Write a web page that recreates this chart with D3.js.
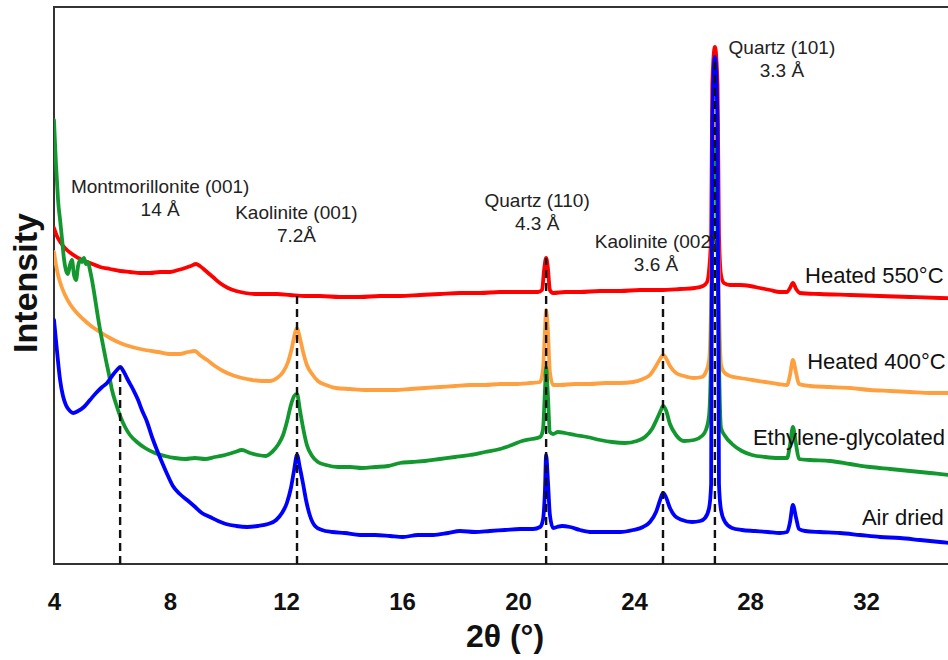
<!DOCTYPE html>
<html>
<head>
<meta charset="utf-8">
<script src="https://cdn.jsdelivr.net/npm/d3@7"></script>
<style>
  html, body { margin: 0; padding: 0; background: #fff; }
  svg { display: block; font-family: "Liberation Sans", Arial, sans-serif; }
</style>
</head>
<body>
<svg id="chart" width="948" height="660"></svg>
<script>
// XRD patterns of the clay fraction: 2θ (degrees) and relative intensity (a.u.)
const airDried = [
  [4.00,244],[4.10,214],[4.21,184],[4.31,168],[4.41,159],[4.55,153],[4.66,151],[4.83,153],
  [5.03,157],[5.24,164],[5.45,171],[5.66,177],[5.83,181],[6.00,188],[6.17,194],[6.28,197],
  [6.41,192],[6.55,184],[6.72,175],[6.90,164],[7.03,154],[7.21,142],[7.38,127],[7.55,114],
  [7.72,102],[7.90,90],[8.10,78],[8.34,70],[8.59,64],[8.83,58],[9.10,51],[9.38,47],
  [9.66,43],[9.93,40],[10.28,38],[10.66,37],[11.03,38],[11.38,40],[11.66,44],[11.86,51],
  [12.03,61],[12.17,76],[12.28,94],[12.38,109],[12.48,96],[12.59,80],[12.69,64],[12.83,48],
  [13.00,38],[13.24,34],[13.59,32],[14.03,31],[14.55,29],[15.07,29],[15.59,28],[16.03,27],
  [16.55,29],[17.07,29],[17.59,31],[18.00,33],[18.52,32],[19.03,33],[19.55,34],[20.07,35],
  [20.52,35],[20.76,37],[20.86,44],[20.93,74],[20.97,109],[21.03,84],[21.10,49],[21.21,36],
  [21.34,37],[21.52,38],[21.79,37],[22.14,34],[22.55,32],[23.00,32],[23.52,32],[23.97,34],
  [24.31,37],[24.55,42],[24.76,52],[24.90,64],[25.00,71],[25.10,67],[25.24,56],[25.41,48],
  [25.66,44],[26.00,42],[26.28,43],[26.45,46],[26.59,56],[26.66,80],[26.70,440],[26.79,507],
  [26.88,440],[26.93,80],[27.00,54],[27.14,42],[27.38,36],[27.72,34],[28.17,33],[28.62,32],
  [29.03,31],[29.28,32],[29.38,42],[29.48,59],[29.59,46],[29.69,35],[29.90,33],[30.41,32],
  [31.10,31],[31.79,29],[32.48,27],[33.17,26],[33.86,24],[34.55,22],[35.24,20],[36.00,19]
];

const glycolated = [
  [4.00,444],[4.03,424],[4.07,399],[4.10,384],[4.14,364],[4.21,344],[4.28,324],[4.34,306],
  [4.41,294],[4.48,290],[4.55,299],[4.62,304],[4.69,289],[4.76,284],[4.83,298],[4.90,304],
  [4.97,302],[5.03,306],[5.10,300],[5.17,302],[5.24,294],[5.31,284],[5.38,272],[5.45,259],
  [5.52,246],[5.59,234],[5.69,219],[5.79,204],[5.90,189],[6.00,174],[6.14,160],[6.28,148],
  [6.45,137],[6.62,129],[6.86,122],[7.14,116],[7.48,111],[7.83,108],[8.17,106],[8.52,105],
  [8.86,106],[9.21,105],[9.55,107],[9.90,109],[10.24,112],[10.48,114],[10.76,111],[11.03,109],
  [11.31,108],[11.52,112],[11.72,119],[11.90,129],[12.03,142],[12.17,159],[12.28,168],[12.38,170],
  [12.48,154],[12.59,136],[12.72,119],[12.90,108],[13.10,102],[13.38,99],[13.79,97],[14.21,97],
  [14.62,96],[15.07,97],[15.52,98],[15.93,101],[16.34,102],[16.79,103],[17.31,105],[17.83,107],
  [18.34,109],[18.86,112],[19.38,115],[19.79,119],[20.14,123],[20.48,125],[20.76,127],[20.86,134],
  [20.93,174],[20.97,197],[21.03,169],[21.10,132],[21.21,130],[21.38,132],[21.62,131],[21.97,129],
  [22.38,127],[22.83,124],[23.24,122],[23.69,121],[24.10,123],[24.38,127],[24.62,135],[24.79,145],
  [24.93,154],[25.00,158],[25.10,154],[25.24,140],[25.45,129],[25.72,123],[26.07,124],[26.34,128],
  [26.48,134],[26.59,149],[26.66,214],[26.72,364],[26.79,414],[26.86,364],[26.93,204],[27.00,136],
  [27.14,128],[27.38,120],[27.72,113],[28.07,109],[28.52,107],[28.97,106],[29.28,106],[29.38,119],
  [29.48,137],[29.59,119],[29.69,105],[30.07,104],[30.76,103],[31.45,100],[32.14,97],[32.83,95],
  [33.52,93],[34.21,91],[34.90,89],[36.00,87]
];

const heated400 = [
  [4.00,312],[4.07,299],[4.14,289],[4.24,279],[4.38,269],[4.55,260],[4.76,252],[5.00,245],
  [5.28,238],[5.59,232],[5.93,226],[6.28,221],[6.69,217],[7.14,214],[7.59,212],[8.00,210],
  [8.34,210],[8.62,212],[8.86,213],[9.03,209],[9.28,204],[9.55,198],[9.83,193],[10.14,189],
  [10.48,186],[10.83,184],[11.17,183],[11.45,183],[11.69,186],[11.90,192],[12.07,202],[12.21,217],
  [12.31,231],[12.38,236],[12.48,226],[12.59,212],[12.72,199],[12.90,190],[13.10,183],[13.38,179],
  [13.72,176],[14.21,175],[14.72,174],[15.24,174],[15.76,174],[16.28,175],[16.79,176],[17.31,177],
  [17.83,178],[18.34,179],[18.86,179],[19.38,180],[19.90,180],[20.41,181],[20.76,182],[20.86,194],
  [20.93,234],[20.97,254],[21.03,234],[21.10,192],[21.21,179],[21.45,179],[21.97,180],[22.48,180],
  [23.00,181],[23.52,181],[23.97,182],[24.31,185],[24.55,189],[24.76,198],[24.90,205],[25.00,209],
  [25.10,206],[25.24,198],[25.45,191],[25.72,188],[26.07,186],[26.34,187],[26.48,192],[26.59,204],
  [26.66,264],[26.72,404],[26.79,444],[26.86,404],[26.93,264],[27.00,199],[27.10,192],[27.31,188],
  [27.66,186],[28.07,184],[28.52,182],[28.97,180],[29.28,179],[29.38,189],[29.48,204],[29.59,191],
  [29.69,180],[30.07,178],[30.76,177],[31.45,176],[32.14,174],[32.83,173],[33.52,172],[34.21,171],
  [34.90,171],[36.00,170]
];

const heated550 = [
  [4.00,336],[4.10,328],[4.24,321],[4.41,315],[4.62,310],[4.90,305],[5.24,301],[5.59,297],
  [5.93,295],[6.28,293],[6.62,292],[6.97,291],[7.31,291],[7.66,292],[8.00,292],[8.28,294],
  [8.52,296],[8.72,298],[8.90,300],[9.03,298],[9.24,293],[9.48,287],[9.72,281],[10.00,276],
  [10.28,273],[10.59,271],[10.93,270],[11.28,270],[11.69,270],[12.14,269],[12.66,268],[13.17,268],
  [13.86,267],[14.55,267],[15.24,268],[15.93,268],[16.62,269],[17.31,270],[18.00,271],[18.69,271],
  [19.38,272],[20.07,272],[20.69,272],[20.83,274],[20.90,294],[20.97,306],[21.03,296],[21.10,274],
  [21.21,271],[21.62,272],[22.14,272],[22.83,273],[23.52,273],[24.21,274],[24.90,274],[25.59,275],
  [26.10,276],[26.38,278],[26.52,282],[26.59,294],[26.66,330],[26.70,480],[26.79,517],[26.88,480],
  [26.93,330],[27.00,289],[27.10,281],[27.31,279],[27.66,279],[28.00,278],[28.34,276],[28.69,274],
  [29.03,272],[29.28,272],[29.38,276],[29.48,281],[29.59,275],[29.72,271],[30.41,270],[31.45,269],
  [32.48,268],[33.52,267],[34.55,266],[36.00,265]
];

// Drawing order: last one ends up on top
const seriesNames  = ["Heated 550°C", "Heated 400°C", "Ethylene-glycolated", "Air dried"];
const seriesData   = [heated550, heated400, glycolated, airDried];
const seriesColors = ["#ff0000", "#ffa040", "#13982f", "#0000ff"];
// Where each series name sits: [2θ at text start, intensity at baseline]
const seriesLabelAt = [[29.90, 281], [29.97, 195], [28.10, 119], [31.86, 39]];

// Reflections marked with dashed guides: [2θ, intensity reached by the guide]
const reflections = [[6.28, 197], [12.38, 271], [20.97, 306], [25.00, 272], [26.79, 507]];

// Peak annotations: two lines each, centred on [2θ, intensity of first baseline]
const peakLabels = [
  { lines: ["Montmorillonite (001)", "14 Å"], at: [7.66, 371] },
  { lines: ["Kaolinite (001)", "7.2Å"],        at: [12.36, 345] },
  { lines: ["Quartz (110)", "4.3 Å"],           at: [20.66, 357] },
  { lines: ["Kaolinite (002)", "3.6 Å"],        at: [24.76, 316] },
  { lines: ["Quartz (101)", "3.3 Å"],           at: [29.10, 510] }
];

const xTicks = [4, 8, 12, 16, 20, 24, 28, 32];
const xDomain = [4, 36];
const yDomain = [0, 557];

const svg = d3.select("#chart");
const margin = { left: 54, top: 7, bottom: 96 };
const plotW = 928;                       // runs past the right edge of the page
const plotH = 660 - margin.top - margin.bottom;

const x = d3.scaleLinear().domain(xDomain).range([margin.left, margin.left + plotW]);
const y = d3.scaleLinear().domain(yDomain).range([margin.top + plotH, margin.top]);

svg.append("defs").append("clipPath").attr("id", "plot-clip")
  .append("rect").attr("x", margin.left).attr("y", 0)
  .attr("width", plotW).attr("height", margin.top + plotH);

// Frame
svg.append("rect")
  .attr("x", margin.left).attr("y", margin.top)
  .attr("width", plotW).attr("height", plotH)
  .attr("fill", "none").attr("stroke", "#333").attr("stroke-width", 2);

// Patterns
const line = d3.line()
  .x(d => x(d[0])).y(d => y(d[1]))
  .curve(d3.curveMonotoneX);

const curves = svg.append("g").attr("clip-path", "url(#plot-clip)");
seriesData.forEach((data, i) => {
  curves.append("path")
    .datum(data)
    .attr("d", line)
    .attr("fill", "none")
    .attr("stroke", seriesColors[i])
    .attr("stroke-width", 3.8)
    .attr("stroke-linejoin", "round")
    .attr("stroke-linecap", "round");
});

// Dashed reflection guides
svg.append("g").selectAll("line").data(reflections).join("line")
  .attr("x1", d => x(d[0])).attr("x2", d => x(d[0]))
  .attr("y1", y(0)).attr("y2", d => y(d[1]))
  .attr("stroke", "#111").attr("stroke-width", 2.4)
  .attr("stroke-dasharray", "8,5");

// X axis
const xAxis = d3.axisBottom(x).tickValues(xTicks).tickSize(0).tickPadding(29)
  .tickFormat(d3.format("d"));
const gx = svg.append("g").attr("transform", `translate(0,${y(0)})`).call(xAxis);
gx.select(".domain").remove();
gx.selectAll("text")
  .attr("font-size", 24).attr("font-weight", "bold")
  .attr("font-family", "'Liberation Sans', Arial, sans-serif")
  .attr("fill", "#111");

svg.append("text")
  .attr("x", 505).attr("y", 647)
  .attr("text-anchor", "middle")
  .attr("font-size", 32).attr("font-weight", "bold").attr("fill", "#111")
  .text("2θ (°)");

svg.append("text")
  .attr("transform", "translate(37,283) rotate(-90)")
  .attr("text-anchor", "middle")
  .attr("font-size", 34).attr("font-weight", "bold").attr("fill", "#111")
  .text("Intensity");

// Peak annotations
const ann = svg.append("g").attr("fill", "#222").attr("font-size", 19).attr("text-anchor", "middle");
peakLabels.forEach(p => {
  const t = ann.append("text").attr("x", x(p.at[0])).attr("y", y(p.at[1]));
  p.lines.forEach((s, k) => {
    t.append("tspan").attr("x", x(p.at[0])).attr("dy", k === 0 ? 0 : 23).text(s);
  });
});

// Series names
svg.append("g").attr("fill", "#111").attr("font-size", 22)
  .selectAll("text").data(seriesNames).join("text")
  .attr("x", (d, i) => x(seriesLabelAt[i][0]))
  .attr("y", (d, i) => y(seriesLabelAt[i][1]))
  .text(d => d);
</script>
</body>
</html>
